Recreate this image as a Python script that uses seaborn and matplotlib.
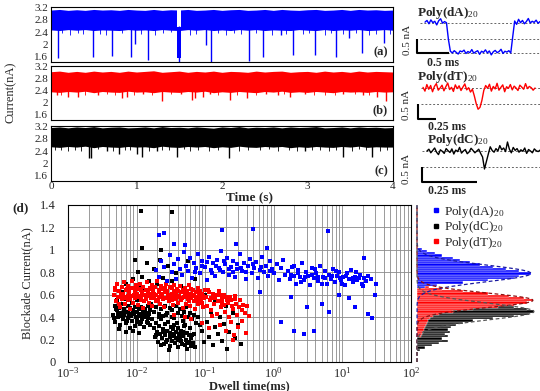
import numpy as np
import matplotlib
matplotlib.use("Agg")
import matplotlib.pyplot as plt
from matplotlib.ticker import FuncFormatter, LogLocator, NullFormatter
from matplotlib.lines import Line2D
import seaborn as sns

sns.set_style("white")
plt.rcParams['font.family'] = ['Liberation Serif', 'DejaVu Serif']
plt.rcParams['mathtext.fontset'] = 'custom'
plt.rcParams['mathtext.rm'] = 'Liberation Serif'
plt.rcParams['mathtext.it'] = 'Liberation Serif:italic'
plt.rcParams['mathtext.bf'] = 'Liberation Serif:bold'

BLUE, RED, BLACK = '#0000ff', '#ff0000', '#000000'

# ---------------- data: current traces (a)-(c) ----------------
band_t = np.linspace(0, 4, 41)  # envelope sample times (s)
blue_upper = [3.12, 3.14, 3.11, 3.13, 3.11, 3.14, 3.12, 3.13, 3.11, 3.14,
              3.12, 3.11, 3.14, 3.11, 3.13, 3.12, 3.14, 3.11, 3.12, 3.14,
              3.11, 3.13, 3.14, 3.11, 3.12, 3.14, 3.11, 3.14, 3.12, 3.11,
              3.13, 3.14, 3.11, 3.12, 3.14, 3.11, 3.14, 3.12, 3.13, 3.11, 3.12]
blue_lower = [2.47, 2.45, 2.48, 2.46, 2.48, 2.45, 2.47, 2.46, 2.45, 2.48,
              2.46, 2.47, 2.45, 2.48, 2.46, 2.45, 2.48, 2.46, 2.48, 2.45,
              2.47, 2.45, 2.48, 2.46, 2.48, 2.45, 2.47, 2.46, 2.45, 2.48,
              2.46, 2.45, 2.48, 2.45, 2.47, 2.46, 2.48, 2.45, 2.46, 2.48, 2.46]
red_upper = [3.03, 3.05, 3.01, 3.04, 3.01, 3.05, 3.02, 3.04, 3.01, 3.05,
             3.02, 3.04, 3.06, 3.01, 3.03, 3.05, 3.01, 3.04, 3.02, 3.05,
             3.01, 3.04, 3.03, 3.01, 3.05, 3.02, 3.04, 3.05, 3.01, 3.03,
             3.04, 3.01, 3.05, 3.02, 3.04, 3.01, 3.05, 3.02, 3.04, 3.03, 3.02]
red_lower = [2.36, 2.34, 2.37, 2.35, 2.38, 2.33, 2.37, 2.35, 2.34, 2.38,
             2.35, 2.36, 2.33, 2.37, 2.35, 2.34, 2.37, 2.35, 2.38, 2.33,
             2.36, 2.34, 2.37, 2.35, 2.33, 2.37, 2.35, 2.38, 2.34, 2.36,
             2.34, 2.37, 2.35, 2.33, 2.37, 2.35, 2.36, 2.34, 2.37, 2.35, 2.36]
black_upper = [3.17, 3.19, 3.16, 3.19, 3.17, 3.20, 3.16, 3.18, 3.19, 3.16,
               3.17, 3.19, 3.16, 3.20, 3.17, 3.18, 3.16, 3.19, 3.17, 3.15,
               3.19, 3.17, 3.20, 3.16, 3.18, 3.17, 3.19, 3.16, 3.19, 3.17,
               3.18, 3.20, 3.16, 3.17, 3.19, 3.16, 3.19, 3.17, 3.18, 3.16, 3.17]
black_lower = [2.54, 2.52, 2.55, 2.53, 2.56, 2.51, 2.55, 2.53, 2.52, 2.55,
               2.53, 2.54, 2.51, 2.56, 2.53, 2.52, 2.55, 2.53, 2.55, 2.51,
               2.54, 2.52, 2.56, 2.53, 2.52, 2.55, 2.53, 2.55, 2.51, 2.54,
               2.52, 2.55, 2.53, 2.52, 2.55, 2.53, 2.56, 2.52, 2.54, 2.53, 2.53]

# translocation spikes: time (s) and lowest current (nA)
blue_spike_t = [0.08, 0.49, 0.71, 0.94, 0.98, 1.13, 1.50, 1.81, 1.87, 2.31,
                2.48, 2.69, 2.83, 3.09, 3.33, 3.49, 3.64, 3.89]
blue_spike_d = [1.54, 1.58, 1.63, 1.58, 2.00, 1.50, 1.40, 1.99, 1.40, 1.44,
                1.60, 2.30, 1.65, 1.65, 1.60, 2.20, 1.70, 2.03]
blue_long_event = (1.47, 1.52, 1.55, 2.55)  # start, end, low, high
blue_minor_t = [0.13, 0.22, 0.31, 0.38, 0.57, 0.64, 0.83, 1.05, 1.22, 1.31,
                1.40, 1.62, 1.70, 1.95, 2.05, 2.14, 2.22, 2.40, 2.58, 2.75,
                2.95, 3.02, 3.20, 3.27, 3.42, 3.57, 3.72, 3.80, 3.96]
blue_minor_d = [2.36, 2.30, 2.38, 2.33, 2.35, 2.31, 2.37, 2.34, 2.30, 2.36,
                2.39, 2.32, 2.35, 2.37, 2.31, 2.36, 2.33, 2.38, 2.30, 2.35,
                2.34, 2.37, 2.31, 2.36, 2.33, 2.38, 2.32, 2.35, 2.34]
red_spike_t = [0.07, 0.20, 0.31, 0.55, 0.83, 0.89, 1.08, 1.30, 1.52, 1.65,
               1.69, 1.78, 1.86, 2.09, 2.29, 2.52, 2.66, 2.80, 2.97, 3.42,
               3.65, 3.81, 3.92]
red_spike_d = [2.25, 2.20, 2.20, 2.25, 2.15, 2.20, 2.30, 2.05, 2.30, 2.10,
               2.15, 2.20, 2.30, 2.10, 2.15, 2.30, 2.25, 2.20, 2.30, 2.30,
               2.25, 2.20, 2.05]
red_minor_t = [0.12, 0.40, 0.65, 0.75, 0.97, 1.18, 1.40, 1.95, 2.18, 2.40,
               2.72, 3.08, 3.20, 3.32, 3.55, 3.72]
red_minor_d = [2.27, 2.26, 2.28, 2.25, 2.27, 2.26, 2.28, 2.25, 2.27, 2.26,
               2.28, 2.25, 2.27, 2.26, 2.28, 2.25]
black_spike_t = [0.44, 0.47, 0.65, 0.79, 1.00, 1.06, 1.24, 1.47, 2.08, 2.97,
                 3.41, 3.76]
black_spike_d = [2.17, 2.17, 2.40, 2.30, 2.30, 2.20, 2.40, 2.20, 2.17, 2.40,
                 2.20, 2.20]
black_minor_t = [0.05, 0.12, 0.20, 0.28, 0.35, 0.55, 0.72, 0.86, 0.92, 1.15,
                 1.30, 1.38, 1.55, 1.63, 1.72, 1.85, 1.95, 2.20, 2.30, 2.45,
                 2.55, 2.65, 2.78, 2.88, 3.05, 3.15, 3.25, 3.33, 3.52, 3.60,
                 3.68, 3.85, 3.93]
black_minor_d = [2.42, 2.45, 2.40, 2.44, 2.41, 2.46, 2.39, 2.43, 2.45, 2.40,
                 2.44, 2.42, 2.46, 2.39, 2.43, 2.41, 2.45, 2.40, 2.44, 2.42,
                 2.46, 2.41, 2.43, 2.39, 2.45, 2.42, 2.40, 2.44, 2.41, 2.46,
                 2.43, 2.40, 2.44]

# ---------------- data: single events (insets) ----------------
ins_a_t = (0.125, 1.92)   # ms
ins_a_i = [2.72, 2.78, 2.66, 2.80, 2.70, 2.75, 2.62, 2.77, 2.84, 2.68, 2.74, 2.70,
           2.10, 1.68, 1.62, 1.70, 1.64, 1.58, 1.69, 1.66, 1.72, 1.60, 1.67, 1.63,
           1.74, 1.61, 1.66, 1.70, 1.57, 1.68, 1.64, 1.73, 1.62, 1.69, 1.55, 1.66,
           1.71, 1.63, 1.67, 1.75, 1.60, 1.68, 1.65, 1.70, 1.62,
           2.20, 2.76, 2.64, 2.82, 2.70, 2.78, 2.66, 2.74, 2.85, 2.69, 2.75, 2.71,
           2.79, 2.68, 2.74]
ins_b_t = (0.07, 1.625)
ins_b_i = [2.72, 2.60, 2.81, 2.66, 2.78, 2.58, 2.75, 2.84, 2.63, 2.70, 2.79, 2.61,
           2.74, 2.86, 2.65, 2.72, 2.59, 2.80, 2.68, 2.77, 2.62, 2.73, 2.83, 2.64,
           2.71, 2.57, 2.66,
           2.45, 2.20, 2.02, 2.08, 2.30, 2.62,
           2.78, 2.69, 2.82, 2.60, 2.75, 2.67, 2.85, 2.63, 2.72, 2.80, 2.58, 2.74,
           2.69, 2.81, 2.64, 2.76, 2.70, 2.62, 2.79, 2.73, 2.66, 2.84, 2.68, 2.75,
           2.71, 2.63, 2.70]
ins_c_t = (0.024, 0.538)
ins_c_i = [2.70, 2.76, 2.64, 2.72, 2.80, 2.66, 2.58, 2.74, 2.69, 2.62, 2.78, 2.71,
           2.65, 2.77, 2.60, 2.73, 2.68, 2.82, 2.63, 2.70, 2.75, 2.61, 2.67, 2.79,
           2.72, 2.64, 2.70, 2.76, 2.62,
           2.50, 2.10, 2.35, 2.60,
           2.84, 2.72, 2.66, 2.78, 2.70, 2.88, 2.74, 2.80, 2.68, 3.00, 2.76, 2.64,
           2.82, 2.72, 2.78, 2.66, 2.74, 2.69, 2.80, 2.62, 2.75, 2.70, 2.64, 2.77,
           2.71, 2.68, 2.73]

# ---------------- data: scatter (log10 dwell in ms, blockade nA) ----------------
dT_points = [
    (-2.33, 0.60), (-2.31, 0.66), (-2.30, 0.54), (-2.28, 0.70), (-2.27, 0.58), (-2.25, 0.63), (-2.24, 0.49), (-2.22, 0.67), (-2.21, 0.56), (-2.20, 0.61),
    (-2.18, 0.71), (-2.17, 0.52), (-2.16, 0.64), (-2.15, 0.58), (-2.13, 0.68), (-2.12, 0.55), (-2.11, 0.62), (-2.10, 0.47), (-2.08, 0.66), (-2.07, 0.59),
    (-2.06, 0.72), (-2.05, 0.53), (-2.03, 0.63), (-2.02, 0.57), (-2.01, 0.69), (-2.00, 0.61), (-1.98, 0.51), (-1.97, 0.65), (-1.96, 0.58), (-1.95, 0.70),
    (-1.93, 0.55), (-1.92, 0.62), (-1.91, 0.67), (-1.90, 0.48), (-1.88, 0.60), (-1.87, 0.64), (-1.86, 0.56), (-1.85, 0.71), (-1.83, 0.59), (-1.82, 0.53),
    (-1.81, 0.66), (-1.80, 0.61), (-1.78, 0.69), (-1.77, 0.50), (-1.76, 0.63), (-1.75, 0.57), (-1.73, 0.67), (-1.72, 0.54), (-1.71, 0.60), (-1.70, 0.72),
    (-1.68, 0.58), (-1.67, 0.64), (-1.66, 0.52), (-1.65, 0.68), (-1.63, 0.61), (-1.62, 0.56), (-1.61, 0.65), (-1.60, 0.49), (-1.58, 0.62), (-1.57, 0.70),
    (-1.56, 0.57), (-1.55, 0.63), (-1.53, 0.54), (-1.52, 0.67), (-1.51, 0.60), (-1.50, 0.58), (-1.48, 0.66), (-1.47, 0.51), (-1.46, 0.63), (-1.45, 0.69),
    (-1.43, 0.56), (-1.42, 0.61), (-1.41, 0.65), (-1.40, 0.53), (-1.38, 0.59), (-1.37, 0.68), (-1.36, 0.55), (-1.35, 0.62), (-1.33, 0.48), (-1.32, 0.64),
    (-1.31, 0.58), (-1.30, 0.66), (-1.28, 0.52), (-1.27, 0.60), (-1.26, 0.63), (-1.25, 0.56), (-1.23, 0.69), (-1.22, 0.50), (-1.21, 0.61), (-1.20, 0.57),
    (-1.18, 0.64), (-1.17, 0.54), (-1.16, 0.60), (-1.15, 0.47), (-1.13, 0.62), (-1.12, 0.58), (-1.11, 0.66), (-1.10, 0.52), (-1.08, 0.59), (-1.07, 0.63),
    (-1.06, 0.55), (-1.05, 0.61), (-1.03, 0.49), (-1.02, 0.57), (-1.01, 0.64),
    (-2.26, 0.52), (-2.19, 0.57), (-2.14, 0.65), (-2.09, 0.56), (-2.04, 0.60), (-1.99, 0.68), (-1.94, 0.59), (-1.89, 0.54), (-1.84, 0.63), (-1.79, 0.57),
    (-1.74, 0.61), (-1.69, 0.55), (-1.64, 0.59), (-1.59, 0.66), (-1.54, 0.60), (-1.49, 0.55), (-1.44, 0.58), (-1.39, 0.63), (-1.34, 0.57), (-1.29, 0.62),
    (-1.24, 0.54), (-1.19, 0.59), (-1.14, 0.56), (-1.09, 0.61), (-1.04, 0.53),
    (-0.99, 0.58), (-0.97, 0.50), (-0.95, 0.62), (-0.93, 0.55), (-0.91, 0.46), (-0.89, 0.59), (-0.87, 0.52), (-0.85, 0.57), (-0.83, 0.43), (-0.81, 0.54),
    (-0.79, 0.60), (-0.77, 0.49), (-0.75, 0.56), (-0.73, 0.51), (-0.71, 0.45), (-0.69, 0.58), (-0.67, 0.53), (-0.65, 0.40), (-0.63, 0.55), (-0.61, 0.50),
    (-0.59, 0.47), (-0.57, 0.56), (-0.55, 0.52), (-0.53, 0.42), (-0.51, 0.49), (-0.49, 0.55), (-0.47, 0.46), (-0.45, 0.51), (-0.42, 0.44), (-0.39, 0.50),
    (-0.96, 0.64), (-0.88, 0.61), (-0.80, 0.63), (-0.72, 0.60), (-0.64, 0.58),
    (-1.45, 0.42), (-1.30, 0.40), (-1.20, 0.38), (-1.05, 0.35), (-0.95, 0.30), (-0.90, 0.41), (-0.78, 0.33), (-0.70, 0.28), (-0.62, 0.36), (-0.58, 0.24),
    (-0.52, 0.31), (-0.46, 0.37), (-0.40, 0.26), (-0.36, 0.41), (-0.60, 0.20),
    (-2.32, 0.64), (-2.23, 0.60), (-2.12, 0.59), (-2.03, 0.66), (-1.94, 0.64), (-1.86, 0.60), (-1.77, 0.65), (-1.68, 0.62), (-1.58, 0.57), (-1.48, 0.61),
    (-1.40, 0.58), (-1.30, 0.60), (-1.21, 0.65), (-1.12, 0.55), (-1.03, 0.59), (-0.92, 0.57), (-0.84, 0.60), (-0.76, 0.53), (-0.68, 0.55), (-0.56, 0.59),
]
dC_points = [
    (-2.34, 0.42), (-2.32, 0.50), (-2.31, 0.36), (-2.29, 0.46), (-2.28, 0.55), (-2.27, 0.40), (-2.25, 0.48), (-2.24, 0.33), (-2.23, 0.44), (-2.22, 0.52),
    (-2.20, 0.38), (-2.19, 0.47), (-2.18, 0.42), (-2.17, 0.56), (-2.16, 0.35), (-2.14, 0.45), (-2.13, 0.50), (-2.12, 0.39), (-2.11, 0.43), (-2.10, 0.30),
    (-2.09, 0.48), (-2.08, 0.41), (-2.07, 0.53), (-2.06, 0.37), (-2.05, 0.46), (-2.04, 0.44), (-2.03, 0.32), (-2.02, 0.49), (-2.01, 0.40), (-2.00, 0.45),
    (-1.99, 0.36), (-1.98, 0.51), (-1.97, 0.43), (-1.96, 0.47), (-1.95, 0.34), (-1.94, 0.41), (-1.93, 0.49), (-1.92, 0.38), (-1.91, 0.45), (-1.90, 0.42),
    (-1.89, 0.31), (-1.88, 0.47), (-1.87, 0.40), (-1.86, 0.44), (-1.85, 0.36), (-1.84, 0.50), (-1.83, 0.39), (-1.82, 0.43), (-1.81, 0.33), (-1.80, 0.46),
    (-2.26, 0.29), (-2.15, 0.27), (-2.05, 0.28), (-1.97, 0.26), (-2.21, 0.58), (-2.09, 0.57), (-1.99, 0.55), (-2.30, 0.47), (-2.12, 0.45), (-1.93, 0.43),
    (-1.75, 0.30), (-1.73, 0.22), (-1.72, 0.35), (-1.70, 0.27), (-1.69, 0.18), (-1.67, 0.32), (-1.66, 0.25), (-1.64, 0.38), (-1.63, 0.21), (-1.62, 0.29),
    (-1.60, 0.16), (-1.59, 0.34), (-1.58, 0.24), (-1.56, 0.28), (-1.55, 0.20), (-1.54, 0.36), (-1.52, 0.14), (-1.51, 0.26), (-1.50, 0.31), (-1.48, 0.19),
    (-1.47, 0.23), (-1.46, 0.33), (-1.44, 0.17), (-1.43, 0.27), (-1.42, 0.21), (-1.40, 0.30), (-1.39, 0.13), (-1.38, 0.25), (-1.36, 0.19), (-1.35, 0.28),
    (-1.34, 0.16), (-1.32, 0.23), (-1.31, 0.32), (-1.30, 0.15), (-1.28, 0.20), (-1.27, 0.26), (-1.26, 0.12), (-1.24, 0.18), (-1.23, 0.24), (-1.21, 0.14),
    (-1.20, 0.21), (-1.18, 0.17), (-1.16, 0.25), (-1.15, 0.13), (-1.68, 0.40), (-1.57, 0.42), (-1.45, 0.39), (-1.33, 0.37), (-1.22, 0.30), (-1.53, 0.11),
    (-1.65, 0.15), (-1.41, 0.35), (-1.29, 0.33), (-1.49, 0.40), (-1.37, 0.22),
    (-1.79, 0.52), (-1.77, 0.38), (-1.74, 0.45), (-1.71, 0.49), (-1.68, 0.43), (-1.65, 0.47), (-1.61, 0.41), (-1.58, 0.50), (-1.55, 0.44), (-1.52, 0.48),
    (-1.49, 0.46), (-1.46, 0.42), (-1.43, 0.50), (-1.40, 0.44), (-1.37, 0.47), (-1.34, 0.41), (-1.31, 0.45), (-1.28, 0.49), (-1.25, 0.40), (-1.22, 0.44),
    (-1.19, 0.38), (-1.16, 0.42), (-1.13, 0.35), (-1.10, 0.40), (-1.07, 0.33),
    (-2.20, 0.62), (-2.15, 0.70), (-2.10, 0.66), (-2.05, 0.74), (-2.02, 0.63), (-1.98, 0.80), (-1.95, 0.68), (-1.92, 0.76), (-1.88, 0.64), (-1.85, 0.88),
    (-1.82, 0.72), (-1.78, 0.67), (-1.74, 0.83), (-1.70, 0.70), (-1.66, 0.91), (-1.62, 0.75), (-1.58, 0.66), (-1.54, 0.86), (-1.48, 0.72), (-1.42, 0.79),
    (-1.35, 0.68), (-1.25, 0.90), (-1.15, 0.74), (-2.02, 0.91),
    (-1.05, 0.28), (-1.02, 0.18), (-0.98, 0.36), (-0.95, 0.22), (-0.92, 0.45), (-0.88, 0.15), (-0.85, 0.31), (-0.82, 0.25), (-0.78, 0.40), (-0.75, 0.19),
    (-0.72, 0.34), (-0.68, 0.12), (-0.65, 0.27), (-0.60, 0.44), (-0.56, 0.21), (-0.52, 0.33), (-0.48, 0.16), (-0.85, 0.55), (-0.70, 0.50), (-1.00, 0.60),
    (-1.93, 1.35), (-1.49, 1.34), (-1.92, 1.02), (-1.64, 1.00),
    (-2.33, 0.39), (-2.21, 0.41), (-2.14, 0.37), (-2.07, 0.43), (-2.00, 0.39), (-1.94, 0.36), (-1.88, 0.42), (-1.83, 0.35), (-2.27, 0.44), (-2.17, 0.45),
    (-1.71, 0.24), (-1.61, 0.27), (-1.52, 0.22), (-1.45, 0.25), (-1.39, 0.20), (-1.33, 0.27), (-1.27, 0.17), (-1.19, 0.24), (-1.57, 0.18), (-1.47, 0.29),
]
dA_points = [
    (-1.72, 0.82), (-1.68, 0.76), (-1.64, 0.90), (-1.60, 0.85), (-1.56, 0.72), (-1.52, 0.95), (-1.49, 0.80), (-1.46, 0.87), (-1.43, 0.74), (-1.40, 0.92),
    (-1.37, 0.83), (-1.34, 0.78), (-1.31, 0.98), (-1.28, 0.86), (-1.25, 0.81), (-1.22, 0.93), (-1.19, 0.75), (-1.16, 0.88), (-1.13, 0.84), (-1.10, 0.96),
    (-1.07, 0.79), (-1.04, 0.90), (-1.01, 0.85), (-0.98, 0.73), (-0.95, 0.94), (-0.92, 0.82), (-0.89, 0.88), (-0.86, 0.77), (-0.83, 0.91), (-0.80, 0.84),
    (-0.77, 0.99), (-0.74, 0.80), (-0.71, 0.87), (-0.68, 0.93), (-0.65, 0.78), (-0.62, 0.85), (-0.59, 0.90), (-0.56, 0.76), (-0.53, 0.83), (-0.50, 0.96),
    (-0.47, 0.81), (-0.44, 0.88), (-0.41, 0.74), (-0.38, 0.86), (-0.35, 0.92), (-0.32, 0.79), (-0.29, 0.84), (-0.26, 0.89), (-0.23, 0.75), (-0.20, 0.82),
    (-0.17, 0.94), (-0.14, 0.80), (-0.11, 0.86), (-0.08, 0.77), (-0.05, 0.90), (-0.02, 0.83), (0.01, 0.79), (0.04, 0.87), (0.07, 0.73), (0.10, 0.84),
    (0.13, 0.91), (0.16, 0.78),
    (-1.15, 0.80), (-1.05, 0.86), (-0.97, 0.89), (-0.90, 0.79), (-0.84, 0.86), (-0.78, 0.82), (-0.72, 0.90), (-0.66, 0.83), (-0.60, 0.80), (-0.54, 0.87),
    (-0.48, 0.84), (-0.40, 0.80), (-0.30, 0.87), (-0.18, 0.85), (-0.06, 0.81),
    (0.20, 0.81), (0.23, 0.74), (0.26, 0.85), (0.29, 0.77), (0.32, 0.70), (0.35, 0.82), (0.38, 0.76), (0.41, 0.88), (0.44, 0.73), (0.47, 0.80),
    (0.50, 0.77), (0.53, 0.69), (0.56, 0.84), (0.59, 0.75), (0.62, 0.79), (0.65, 0.72), (0.68, 0.86), (0.71, 0.76), (0.74, 0.81), (0.77, 0.70),
    (0.80, 0.78), (0.83, 0.74), (0.86, 0.83), (0.89, 0.71), (0.92, 0.77), (0.95, 0.80), (0.98, 0.73), (1.01, 0.76), (1.04, 0.69), (1.07, 0.79),
    (1.10, 0.74), (1.13, 0.82), (1.16, 0.71), (1.19, 0.76), (1.22, 0.73), (1.25, 0.78), (1.28, 0.70), (1.31, 0.75), (1.34, 0.72), (1.38, 0.77),
    (0.25, 0.78), (0.36, 0.79), (0.45, 0.76), (0.55, 0.78), (0.64, 0.76), (0.75, 0.75), (0.85, 0.77), (0.96, 0.75), (1.05, 0.77), (1.15, 0.75),
    (1.24, 0.75), (0.30, 0.86), (0.60, 0.83), (0.90, 0.81), (1.20, 0.80), (0.40, 0.71), (0.70, 0.70), (1.00, 0.70), (1.30, 0.68), (1.42, 0.74),
    (-1.67, 1.13), (-1.60, 1.15), (-0.75, 1.18), (-0.31, 1.19), (0.79, 1.17), (1.32, 0.93), (1.49, 0.70), (1.47, 0.60), (0.49, 0.49), (0.44, 0.25),
    (0.59, 0.28), (0.70, 0.52), (1.18, 0.49), (1.38, 0.43), (1.43, 0.39), (0.30, 0.28), (0.11, 0.36), (0.80, 0.45), (-0.20, 0.62), (0.25, 0.58),
    (0.95, 0.60), (1.10, 0.57), (-1.45, 1.05), (-1.30, 1.04), (-0.55, 1.05), (-0.10, 1.02),
]

# ---------------- data: blockade histograms ----------------
dA_bins = [0.67, 0.69, 0.71, 0.73, 0.75, 0.77, 0.79, 0.81, 0.83, 0.85, 0.87, 0.89,
           0.91, 0.93, 0.95, 0.97, 0.99, 1.01]
dA_counts = [8, 20, 45, 70, 95, 100, 112, 100, 88, 75, 62, 52, 42, 35, 25, 18, 10, 5]
dT_bins = [0.23, 0.25, 0.27, 0.29, 0.31, 0.33, 0.35, 0.37, 0.39, 0.41, 0.43, 0.45,
           0.47, 0.49, 0.51, 0.53, 0.55, 0.57, 0.59, 0.61, 0.63, 0.65, 0.67, 0.69]
dT_counts = [4, 5, 6, 7, 8, 9, 10, 11, 13, 16, 22, 35, 55, 80, 95, 108, 114, 105,
             90, 70, 45, 25, 12, 6]
dC_bins = [0.11, 0.13, 0.15, 0.17, 0.19, 0.21, 0.23, 0.25, 0.27, 0.29, 0.31, 0.33,
           0.35, 0.37, 0.39, 0.41, 0.43, 0.45, 0.47, 0.49, 0.51, 0.53, 0.55, 0.57,
           0.59, 0.61]
dC_counts = [3, 8, 15, 22, 30, 25, 30, 28, 32, 30, 33, 38, 45, 55, 75, 95, 110, 115,
             108, 95, 70, 40, 20, 12, 8, 5]
# gaussian fits (centre, width, height) drawn over the histograms
dA_fit = (0.79, 0.075, 112)
dT_fit = (0.55, 0.065, 114)
dC_fit = (0.45, 0.075, 115)

labels = [r'Poly(dA)$_{20}$', r'Poly(dC)$_{20}$', r'Poly(dT)$_{20}$']

# ---------------- figure ----------------
W, H = 540, 391
fig = plt.figure(figsize=(W / 100, H / 100), dpi=100)


def px_axes(x0, y0, x1, y1):
    return fig.add_axes([x0 / W, 1 - y1 / H, (x1 - x0) / W, (y1 - y0) / H])


traces = [
    (px_axes(51, 7, 393, 62), BLUE, blue_upper, blue_lower, blue_spike_t, blue_spike_d,
     blue_minor_t, blue_minor_d, '(a)'),
    (px_axes(51, 66, 393, 120), RED, red_upper, red_lower, red_spike_t, red_spike_d,
     red_minor_t, red_minor_d, '(b)'),
    (px_axes(51, 126, 393, 181), BLACK, black_upper, black_lower, black_spike_t,
     black_spike_d, black_minor_t, black_minor_d, '(c)'),
]
for k, (ax, col, up, lo, st, sd, mt, md, tag) in enumerate(traces):
    ax.fill_between(band_t, lo, up, color=col, lw=0)
    ax.vlines(mt, md, 2.6, color=col, lw=0.6)
    ax.vlines(st, sd, 2.6, color=col, lw=1.0)
    if k == 0:
        t0, t1, ilo, ihi = blue_long_event
        ax.fill_between([t0, t1], 2.4, 3.3, color='white', lw=0)
        ax.fill_between([t0, t1], ilo, ihi, color=col, lw=0)
    ax.set_xlim(0, 4)
    ax.set_ylim(1.42, 3.22)
    ax.set_yticks([1.6, 2, 2.4, 2.8, 3.2])
    ax.yaxis.set_major_formatter(FuncFormatter(lambda v, p: f'{v:g}'))
    ax.set_xticks([0, 1, 2, 3, 4])
    ax.tick_params(direction='in', length=2, width=0.6, labelsize=8, pad=2)
    ax.tick_params(axis='x', pad=1)
    if k < 2:
        ax.set_xticklabels([])
    for s in ax.spines.values():
        s.set_linewidth(0.8)
        s.set_color('black')
    ax.text(0.985, 0.07, tag, transform=ax.transAxes, ha='right', va='bottom',
            fontsize=9, fontweight='bold')

fig.text(11 / W, 1 - 92 / H, 'Current(nA)', rotation=90, ha='center', va='center', fontsize=9)
fig.text(249 / W, 1 - 197 / H, 'Time (s)', ha='center', va='center', fontsize=9.5,
         fontweight='bold')

# insets with single events
insets = [
    (px_axes(400, 0, 540, 62), BLUE, ins_a_t, ins_a_i, (-0.266, 1.92), (1.296, 3.51),
     [2.7, 2.1, 1.6], 0.05, (0.5, 1.6, 2.1), labels[0], (0.0, 3.06), (-0.156, 2.08),
     (0.156, 1.243), '0.5 ms'),
    (px_axes(400, 62, 540, 128), RED, ins_b_t, ins_b_i, (-0.25, 1.694), (1.418, 3.533),
     [2.7, 2.2], 0.04, (0.25, 1.7, 2.2), labels[2], (-0.01, 3.05), (-0.153, 2.155),
     (0.139, 1.45), '0.25 ms'),
    (px_axes(400, 128, 540, 195), BLACK, ins_c_t, ins_c_i, (-0.0986, 0.5377),
     (1.233, 3.467), [2.7, 2.15], 0.0, (0.25, 1.65, 2.15), labels[1], (0.024, 3.07),
     (-0.067, 2.1), (0.0286, 1.35), '0.25 ms'),
]
for ax, col, trange, cur, xl, yl, dash_y, dash_x0, bar, title, tpos, nApos, mspos, mstxt in insets:
    t = np.linspace(trange[0], trange[1], len(cur))
    for yv in dash_y:
        ax.plot([dash_x0, xl[1]], [yv, yv], ls=(0, (2, 2)), color='#666666', lw=0.7)
    sns.lineplot(x=t, y=cur, color=col, lw=1.0, ax=ax, sort=False)
    blen, b0, b1 = bar
    ax.plot([0, 0, blen], [b1, b0, b0], color='black', lw=1.5, solid_capstyle='butt')
    ax.text(tpos[0], tpos[1], title, ha='left', va='center', fontsize=9.5,
            fontweight='bold')
    ax.text(nApos[0], nApos[1], '0.5 nA', rotation=90, ha='center', va='center',
            fontsize=8)
    ax.text(mspos[0], mspos[1], mstxt, ha='left', va='center', fontsize=8.5,
            fontweight='bold', clip_on=False)
    ax.set_xlim(*xl)
    ax.set_ylim(*yl)
    ax.axis('off')

# (d) scatter of blockade current vs dwell time
ax_d = px_axes(68, 205, 411, 362)
groups = [(dC_points, BLACK, labels[1]), (dT_points, RED, labels[2]),
          (dA_points, BLUE, labels[0])]
for pts, col, lab in groups:
    arr = np.array(pts)
    sns.scatterplot(x=10 ** arr[:, 0], y=arr[:, 1], color=col, s=7, marker='s',
                    linewidth=0, ax=ax_d, legend=False)
ax_d.set_xscale('log')
ax_d.set_xlim(1e-3, 1e2)
ax_d.set_ylim(0, 1.4)
ax_d.set_yticks(np.arange(0, 1.41, 0.2))
ax_d.yaxis.set_major_formatter(FuncFormatter(lambda v, p: f'{v:g}'))
ax_d.xaxis.set_major_locator(LogLocator(base=10, numticks=10))
ax_d.xaxis.set_minor_locator(LogLocator(base=10, subs=np.arange(2, 10), numticks=20))
ax_d.xaxis.set_minor_formatter(NullFormatter())
ax_d.grid(True, which='both', axis='x', color='#8a8a8a', lw=0.6)
ax_d.grid(True, which='major', axis='y', color='#8a8a8a', lw=0.6)
ax_d.set_axisbelow(True)
ax_d.tick_params(which='both', length=0, labelsize=9)
ax_d.tick_params(axis='x', pad=3)
ax_d.tick_params(axis='y', pad=9)
for s in ax_d.spines.values():
    s.set_linewidth(0.8)
    s.set_color('black')
ax_d.set_xlabel('')
ax_d.set_ylabel('')
fig.text(27 / W, 1 - 283 / H, 'Blockade Current(nA)', rotation=90, ha='center',
         va='center', fontsize=9)
fig.text(249 / W, 1 - 386 / H, 'Dwell time(ms)', ha='center', va='center', fontsize=9,
         fontweight='bold')
fig.text(12 / W, 1 - 208 / H, '(d)', ha='left', va='center', fontsize=9.5,
         fontweight='bold')

# histogram of blockade currents
ax_h = px_axes(417, 205, 537, 362)
for bins, counts, col in [(dC_bins, dC_counts, BLACK), (dT_bins, dT_counts, RED),
                          (dA_bins, dA_counts, BLUE)]:
    ax_h.barh(bins, counts, height=0.02, color=col, edgecolor='white', linewidth=0.3)
yy = np.linspace(0, 1.4, 300)
for (mu, sig, amp), col in [(dA_fit, '#1a1aa0'), (dT_fit, '#8b1010'), (dC_fit, '#555555')]:
    ax_h.plot(amp * np.exp(-0.5 * ((yy - mu) / sig) ** 2), yy, ls=(0, (3, 2)), color=col,
              lw=0.9, clip_on=False)
ax_h.set_ylim(0, 1.4)
ax_h.set_xlim(0, 118)
ax_h.axis('off')
handles = [Line2D([], [], marker='s', ls='', color=c, markersize=2.5)
           for c in (BLUE, BLACK, RED)]
ax_h.legend(handles, labels, loc='upper left', bbox_to_anchor=(0.08, 1.04),
            frameon=False, fontsize=9.5, handlelength=0.6, handletextpad=0.3,
            labelspacing=-0.05, borderaxespad=0)

fig.savefig('out.png', dpi=100, facecolor='white')
